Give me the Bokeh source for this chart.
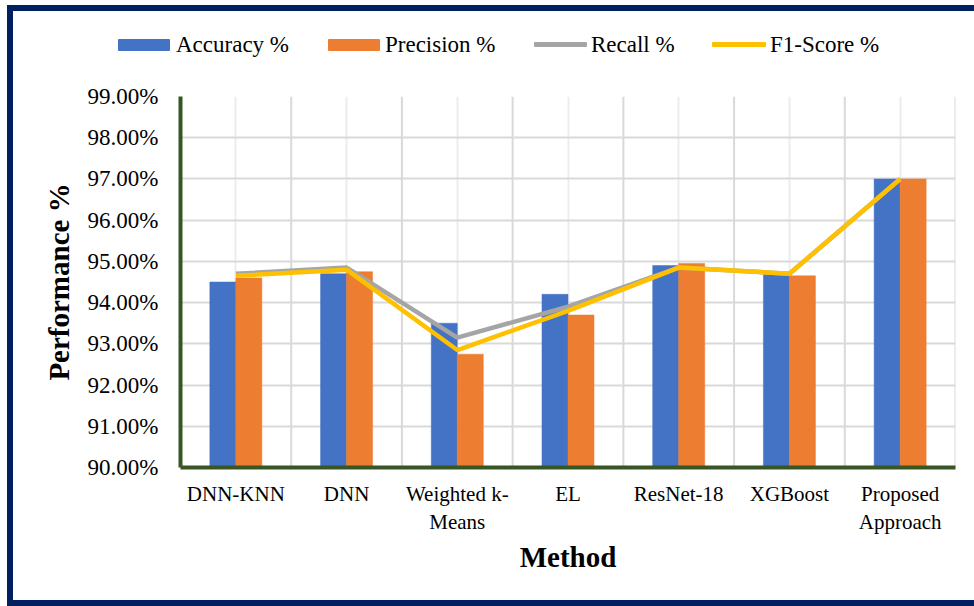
from bokeh.plotting import figure
from bokeh.layouts import column
from bokeh.models import (ColumnDataSource, FactorRange, FixedTicker, PrintfTickFormatter, Div)
from bokeh.transform import dodge
from bokeh.embed import file_html
from bokeh.resources import INLINE

# Methods compared and their scores (in percent)
methods = ["DNN-KNN", "DNN", "Weighted k-\nMeans", "EL", "ResNet-18", "XGBoost", "Proposed\nApproach"]
accuracy = [94.5, 94.7, 93.5, 94.2, 94.9, 94.7, 97.0]
precision = [94.6, 94.75, 92.75, 93.7, 94.95, 94.65, 97.0]
recall = [94.7, 94.85, 93.15, 93.9, 94.85, 94.7, 97.0]
f1_score = [94.65, 94.8, 92.85, 93.8, 94.85, 94.7, 97.0]
y_ticks = [90, 91, 92, 93, 94, 95, 96, 97, 98, 99]
series_names = ["Accuracy %", "Precision %", "Recall %", "F1-Score %"]

FONT = "Liberation Serif"
BLUE, ORANGE, GRAY, GOLD = "#4472C4", "#ED7D31", "#A5A5A5", "#FFC000"
AXIS_GREEN = "#375623"
LINE_W = 4.5

src = ColumnDataSource(dict(method=methods, accuracy=accuracy, precision=precision,
                            recall=recall, f1=f1_score))

# ---- main chart ----
p = figure(x_range=FactorRange(*methods), y_range=(y_ticks[0], y_ticks[-1]),
           width=961, height=520, output_backend="svg", toolbar_location=None,
           min_border_left=167, min_border_right=19, min_border_top=16, min_border_bottom=133)
p.outline_line_color = None
p.background_fill_color = "white"
p.border_fill_color = "white"

# grid: horizontal lines every 1%, light lines at category centres
p.ygrid.ticker = FixedTicker(ticks=y_ticks)
p.ygrid.grid_line_color = "#D9D9D9"
p.ygrid.grid_line_width = 2
p.xgrid.grid_line_color = "#ECECEC"
p.xgrid.grid_line_width = 2

# darker lines on the boundaries between categories
p.segment(x0=dodge("method", 0.5, range=p.x_range), x1=dodge("method", 0.5, range=p.x_range),
          y0=y_ticks[0], y1=y_ticks[-1], line_color="#D9D9D9", line_width=2, source=src)

bw = 0.235
p.vbar(x=dodge("method", -bw / 2, range=p.x_range), top="accuracy", bottom=y_ticks[0],
       width=bw, fill_color=BLUE, line_color=BLUE, line_width=0.5, source=src)
p.vbar(x=dodge("method", bw / 2, range=p.x_range), top="precision", bottom=y_ticks[0],
       width=bw, fill_color=ORANGE, line_color=ORANGE, line_width=0.5, source=src)
p.line(x="method", y="recall", line_color=GRAY, line_width=LINE_W, source=src)
p.line(x="method", y="f1", line_color=GOLD, line_width=LINE_W, source=src)

for ax in (p.xaxis[0], p.yaxis[0]):
    ax.axis_line_color = AXIS_GREEN
    ax.axis_line_width = 4
    ax.major_tick_line_color = None
    ax.minor_tick_line_color = None
    ax.major_tick_out = 0
    ax.major_label_text_font = FONT
    ax.major_label_text_color = "black"
    ax.axis_label_text_font = FONT
    ax.axis_label_text_font_style = "bold"
    ax.axis_label_text_font_size = "29px"
    ax.axis_label_text_color = "black"

p.yaxis.ticker = FixedTicker(ticks=y_ticks)
p.yaxis.formatter = PrintfTickFormatter(format="%.2f%%")
p.yaxis.major_label_text_font_size = "23px"
p.yaxis.major_label_standoff = 22
p.yaxis.axis_label = "Performance %"
p.yaxis.axis_label_standoff = 10

p.xaxis.major_label_text_font_size = "21px"
p.xaxis.major_label_standoff = 14
p.xaxis.axis_label = "Method"
p.xaxis.axis_label_standoff = 4

# ---- legend strip above the chart (swatch boxes for bars, short strokes for lines) ----
# (name, colour, swatch left, swatch top, swatch width, swatch height, label left)
legend_entries = [
    (series_names[0], BLUE, 105, 28, 52, 12, 163),
    (series_names[1], ORANGE, 315, 28, 52, 12, 372),
    (series_names[2], GRAY, 521, 31, 53, 5, 578),
    (series_names[3], GOLD, 699, 31, 54, 5, 757),
]
parts = []
for name, color, sx, sy, sw, sh, tx in legend_entries:
    parts.append(f'<div style="position:absolute;left:{sx}px;top:{sy}px;width:{sw}px;'
                 f'height:{sh}px;background:{color};border-radius:1px"></div>')
    parts.append(f'<div style="position:absolute;left:{tx}px;top:21px;line-height:26px;'
                 f'white-space:nowrap">{name}</div>')
legend_html = (f'<div style="position:relative;width:961px;height:69px;'
               f'font-family:\'{FONT}\';font-size:23px;color:black">' + "".join(parts) + "</div>")
legend_div = Div(text=legend_html, width=961, height=69, margin=0,
                 styles={"background": "white"})

# navy frame around the whole chart
layout = column(legend_div, p, spacing=0,
                styles={"border": "6px solid #002060", "margin-left": "7px", "margin-top": "5px",
                        "background": "white"})

open("out.html", "w").write(file_html(layout, INLINE))
